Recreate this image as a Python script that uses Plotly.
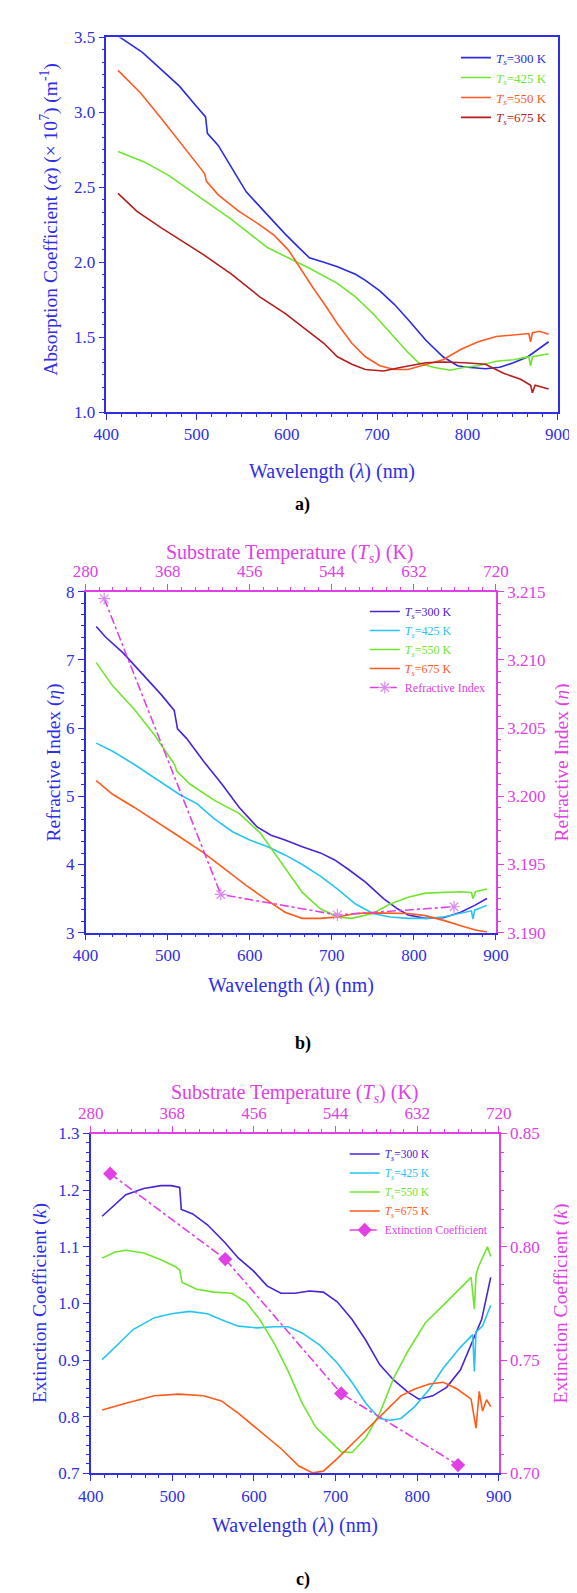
import plotly.graph_objects as go

# ---------------- data ----------------
# Panel a: absorption coefficient (x 10^7 m^-1)
wl_a_300 = [413, 425, 440, 461, 481, 500, 510, 512, 524, 539, 555, 578, 598, 613, 625, 641, 656, 676, 687, 703, 719, 734, 754, 773, 789, 800, 820, 836, 851, 867, 878, 890]
alpha_300 = [3.51, 3.46, 3.40, 3.285, 3.175, 3.04, 2.97, 2.86, 2.78, 2.63, 2.47, 2.32, 2.19, 2.10, 2.03, 2.00, 1.97, 1.92, 1.88, 1.81, 1.72, 1.62, 1.48, 1.37, 1.31, 1.30, 1.29, 1.30, 1.33, 1.37, 1.42, 1.47]
wl_a_425 = [413, 442, 469, 500, 510, 539, 578, 609, 625, 656, 676, 695, 715, 734, 746, 762, 781, 797, 812, 832, 851, 868, 870, 872, 890]
alpha_425 = [2.74, 2.67, 2.58, 2.45, 2.41, 2.285, 2.10, 2.01, 1.96, 1.86, 1.77, 1.66, 1.53, 1.40, 1.33, 1.30, 1.28, 1.30, 1.31, 1.34, 1.35, 1.37, 1.31, 1.37, 1.39]
wl_a_550 = [413, 438, 461, 485, 504, 509, 511, 524, 547, 570, 586, 602, 617, 629, 644, 656, 672, 687, 703, 719, 734, 750, 773, 793, 812, 832, 851, 868, 870, 872, 880, 890]
alpha_550 = [3.28, 3.13, 2.96, 2.78, 2.63, 2.59, 2.54, 2.45, 2.34, 2.25, 2.18, 2.08, 1.94, 1.83, 1.70, 1.59, 1.46, 1.37, 1.31, 1.285, 1.285, 1.31, 1.35, 1.42, 1.47, 1.505, 1.515, 1.525, 1.47, 1.53, 1.54, 1.52]
wl_a_675 = [413, 434, 461, 489, 508, 539, 570, 598, 617, 641, 656, 672, 687, 707, 727, 754, 773, 797, 820, 840, 859, 870, 872, 875, 890]
alpha_675 = [2.46, 2.34, 2.23, 2.12, 2.05, 1.92, 1.77, 1.66, 1.57, 1.46, 1.37, 1.32, 1.285, 1.275, 1.30, 1.33, 1.335, 1.33, 1.32, 1.26, 1.22, 1.18, 1.13, 1.18, 1.155]

# Panel b: refractive index
wl_b_300 = [413, 424, 446, 472, 493, 508, 510, 512, 523, 544, 566, 587, 609, 626, 643, 664, 686, 703, 720, 741, 763, 780, 793, 814, 836, 857, 874, 889]
n_300 = [7.49, 7.34, 7.10, 6.76, 6.48, 6.26, 6.09, 5.99, 5.85, 5.51, 5.18, 4.84, 4.55, 4.43, 4.36, 4.26, 4.17, 4.07, 3.93, 3.74, 3.50, 3.35, 3.26, 3.21, 3.22, 3.30, 3.40, 3.50]
wl_b_425 = [413, 433, 459, 493, 514, 536, 557, 579, 600, 622, 643, 664, 686, 707, 729, 750, 771, 793, 814, 836, 857, 870, 872, 874, 889]
n_425 = [5.78, 5.66, 5.47, 5.20, 5.03, 4.89, 4.67, 4.48, 4.36, 4.26, 4.14, 4.00, 3.83, 3.64, 3.42, 3.28, 3.23, 3.21, 3.21, 3.23, 3.28, 3.32, 3.20, 3.33, 3.40]
wl_b_550 = [413, 433, 459, 484, 506, 509, 511, 527, 557, 587, 613, 630, 647, 664, 686, 707, 724, 750, 771, 793, 814, 836, 857, 870, 872, 875, 889]
n_550 = [6.96, 6.62, 6.28, 5.90, 5.51, 5.45, 5.37, 5.18, 4.94, 4.75, 4.46, 4.17, 3.88, 3.59, 3.35, 3.23, 3.21, 3.28, 3.42, 3.52, 3.58, 3.59, 3.60, 3.59, 3.50, 3.60, 3.64]
wl_b_675 = [413, 433, 459, 493, 514, 544, 570, 596, 622, 643, 664, 686, 707, 729, 750, 771, 793, 814, 836, 857, 875, 889]
n_675 = [5.23, 5.03, 4.84, 4.58, 4.41, 4.17, 3.93, 3.69, 3.47, 3.30, 3.21, 3.21, 3.23, 3.28, 3.29, 3.29, 3.28, 3.25, 3.18, 3.10, 3.04, 3.01]
temp_n = [300, 425, 550, 675]
refr_index = [3.2145, 3.1928, 3.1913, 3.1919]

# Panel c: extinction coefficient
wl_c_300 = [414, 426, 443, 465, 486, 499, 509, 511, 525, 543, 564, 581, 599, 616, 633, 650, 668, 685, 702, 720, 737, 754, 771, 789, 802, 819, 836, 853, 866, 879, 890]
k_300 = [1.154, 1.169, 1.192, 1.203, 1.208, 1.208, 1.205, 1.166, 1.158, 1.139, 1.108, 1.080, 1.058, 1.031, 1.018, 1.018, 1.022, 1.020, 1.003, 0.972, 0.935, 0.892, 0.865, 0.843, 0.831, 0.837, 0.852, 0.883, 0.929, 0.972, 1.046]
wl_c_425 = [414, 430, 452, 478, 499, 521, 543, 564, 581, 603, 625, 642, 659, 681, 702, 720, 737, 754, 767, 780, 797, 815, 832, 853, 868, 870, 872, 880, 890]
k_425 = [0.901, 0.923, 0.954, 0.975, 0.982, 0.986, 0.982, 0.969, 0.960, 0.957, 0.959, 0.959, 0.948, 0.926, 0.895, 0.861, 0.824, 0.797, 0.794, 0.797, 0.818, 0.849, 0.886, 0.923, 0.945, 0.880, 0.950, 0.960, 0.997]
wl_c_550 = [414, 430, 443, 465, 486, 504, 509, 512, 530, 551, 573, 590, 607, 625, 642, 659, 676, 694, 707, 720, 737, 754, 771, 789, 810, 832, 853, 866, 870, 872, 875, 886, 890]
k_550 = [1.080, 1.091, 1.094, 1.089, 1.077, 1.065, 1.059, 1.037, 1.025, 1.020, 1.018, 1.003, 0.972, 0.929, 0.880, 0.824, 0.781, 0.757, 0.738, 0.737, 0.763, 0.806, 0.868, 0.917, 0.966, 0.997, 1.028, 1.046, 0.990, 1.050, 1.065, 1.100, 1.083]
wl_c_675 = [414, 443, 478, 508, 538, 560, 581, 607, 633, 655, 672, 685, 702, 728, 745, 763, 780, 797, 815, 832, 849, 866, 872, 876, 880, 885, 890]
k_675 = [0.812, 0.824, 0.837, 0.840, 0.837, 0.828, 0.806, 0.775, 0.744, 0.713, 0.701, 0.704, 0.726, 0.763, 0.787, 0.812, 0.837, 0.849, 0.858, 0.861, 0.849, 0.831, 0.780, 0.845, 0.810, 0.830, 0.818]
temp_k = [301, 425, 550, 676]
ext_coeff = [0.8323, 0.7946, 0.7353, 0.7037]

# ---------------- styling ----------------
FONT = "Liberation Serif"
BLUE = "#2E2EE8"
MAG = "#E040E6"
MARK = "#D98BEF"
CA = {"300": "#2B2BE6", "425": "#6FE62E", "550": "#FF5A22", "675": "#B41E1E"}
CB = {"300": "#4A22D8", "425": "#26C4F2", "550": "#6FE62E", "675": "#FF5A1A"}


def lab(t, c):
    return f"<span style='color:{c}'><i>T<sub>s</sub></i>={t} K</span>"


fig = go.Figure()

# panel a
for t, xs, ys in [("300", wl_a_300, alpha_300), ("425", wl_a_425, alpha_425),
                  ("550", wl_a_550, alpha_550), ("675", wl_a_675, alpha_675)]:
    fig.add_trace(go.Scatter(x=xs, y=ys, mode="lines", name=lab(t, CA[t]),
                             line=dict(color=CA[t], width=1.6), xaxis="x", yaxis="y",
                             legend="legend"))

# panel b
for t, xs, ys in [("300", wl_b_300, n_300), ("425", wl_b_425, n_425),
                  ("550", wl_b_550, n_550), ("675", wl_b_675, n_675)]:
    fig.add_trace(go.Scatter(x=xs, y=ys, mode="lines", name=lab(t, CB[t]),
                             line=dict(color=CB[t], width=1.6), xaxis="x2", yaxis="y2",
                             legend="legend2"))
fig.add_trace(go.Scatter(x=temp_n, y=refr_index, mode="lines+markers",
                         name=f"<span style='color:{MAG}'>Refractive Index</span>",
                         line=dict(color=MAG, width=1.6, dash="dashdot"),
                         marker=dict(symbol="asterisk-open", size=10, color=MARK,
                                     line=dict(color=MARK, width=1.2)),
                         xaxis="x3", yaxis="y3", legend="legend2"))

# panel c
for t, xs, ys in [("300", wl_c_300, k_300), ("425", wl_c_425, k_425),
                  ("550", wl_c_550, k_550), ("675", wl_c_675, k_675)]:
    fig.add_trace(go.Scatter(x=xs, y=ys, mode="lines", name=lab(t, CB[t]),
                             line=dict(color=CB[t], width=1.6), xaxis="x4", yaxis="y4",
                             legend="legend3"))
fig.add_trace(go.Scatter(x=temp_k, y=ext_coeff, mode="lines+markers",
                         name=f"<span style='color:{MAG}'>Extinction Coefficient</span>",
                         line=dict(color=MAG, width=1.6, dash="dashdot"),
                         marker=dict(symbol="diamond", size=11, color=MAG),
                         xaxis="x5", yaxis="y5", legend="legend3"))


def axis(color, rng, dtick, mdtick, tick0=None, fmt=None, **kw):
    d = dict(range=rng, dtick=dtick, ticks="outside", ticklen=6, tickwidth=1.3,
             tickcolor=color, linecolor=color, linewidth=1.5, showline=True,
             showgrid=False, zeroline=False,
             tickfont=dict(family=FONT, size=17, color=color),
             minor=dict(dtick=mdtick, ticks="outside", ticklen=3, tickwidth=1,
                        tickcolor=color, showgrid=False))
    if tick0 is not None:
        d["tick0"] = tick0
        d["minor"]["tick0"] = tick0
    if fmt:
        d["tickformat"] = fmt
    d.update(kw)
    return d


H = 1593.0
W = 577.0


def ydom(top, bot):
    return [1 - bot / H, 1 - top / H]


fig.update_layout(
    width=577, height=1593, margin=dict(l=0, r=0, t=0, b=0),
    paper_bgcolor="white", plot_bgcolor="white", showlegend=True,
    font=dict(family=FONT),
    xaxis=axis(BLUE, [400, 900], 100, 100 / 6, tick0=400, domain=[89.3 / W, 562 / W],
               anchor="y", mirror=True),
    yaxis=axis(BLUE, [1, 3.5], 0.5, 0.5 / 6, tick0=1, fmt=".1f", domain=ydom(20.7, 400),
               anchor="x", mirror=True),
    xaxis2=axis(BLUE, [400, 900], 100, 100 / 6, tick0=400, domain=[67.6 / W, 497.4 / W],
                anchor="y2"),
    yaxis2=axis(BLUE, [3, 8], 1, 1 / 6, tick0=3, domain=ydom(581.7, 926.7), anchor="x2"),
    xaxis3=axis(MAG, [280, 720], 88, 88 / 6, tick0=280, overlaying="x2", side="top",
                anchor="y2"),
    yaxis3=axis(MAG, [3.19, 3.215], 0.005, 0.005 / 6, tick0=3.19, fmt=".3f",
                overlaying="y2", side="right", anchor="x2"),
    xaxis4=axis(BLUE, [400, 900], 100, 100 / 6, tick0=400, domain=[73 / W, 500.4 / W],
                anchor="y4"),
    yaxis4=axis(BLUE, [0.7, 1.3], 0.1, 0.1 / 6, tick0=0.7, fmt=".1f",
                domain=ydom(1130, 1474), anchor="x4"),
    xaxis5=axis(MAG, [280, 720], 88, 88 / 6, tick0=280, overlaying="x4", side="top",
                anchor="y4"),
    yaxis5=axis(MAG, [0.70, 0.85], 0.05, 0.05 / 6, tick0=0.7, fmt=".2f",
                overlaying="y4", side="right", anchor="x4"),
    legend=dict(x=556 / W, xanchor="right", y=1 - 26 / H, yanchor="top",
                bgcolor="rgba(0,0,0,0)", font=dict(family=FONT, size=13),
                tracegroupgap=0, itemwidth=30),
    legend2=dict(x=492 / W, xanchor="right", y=1 - 587 / H, yanchor="top",
                 bgcolor="rgba(0,0,0,0)", font=dict(family=FONT, size=12),
                 tracegroupgap=0, itemwidth=30),
    legend3=dict(x=495 / W, xanchor="right", y=1 - 1136 / H, yanchor="top",
                 bgcolor="rgba(0,0,0,0)", font=dict(family=FONT, size=11.5),
                 tracegroupgap=0, itemwidth=30),
)


def ann(text, x, y, size, color, angle=0, bold=False):
    if bold:
        text = f"<b>{text}</b>"
    fig.add_annotation(text=text, x=x / W, y=1 - y / H, xref="paper", yref="paper",
                       showarrow=False, textangle=angle, xanchor="center", yanchor="middle",
                       font=dict(family=FONT, size=size, color=color))


# panel a texts
ann("Absorption Coefficient (<i>α</i>) (× 10<sup>7</sup>) (m<sup>-1</sup>)", 29.5, 205, 19.5, BLUE, -90)
ann("Wavelength (<i>λ</i>) (nm)", 326, 460, 20, BLUE)
ann("a)", 295, 493, 18, "black", bold=True)
# panel b texts
ann("Substrate Temperature (<i>T<sub>s</sub></i>) (K)", 282, 543, 20, MAG)
ann("Refractive Index (<i>η</i>)", 35, 754, 19.5, BLUE, -90)
ann("Refractive Index (<i>η</i>)", 567, 754, 19.5, MAG, -90)
ann("Wavelength (<i>λ</i>) (nm)", 282.5, 980, 20, BLUE)
ann("b)", 295, 1039, 18, "black", bold=True)
# panel c texts
ann("Substrate Temperature (<i>T<sub>s</sub></i>) (K)", 287, 1089, 20, MAG)
ann("Extinction Coefficient (<i>k</i>)", 20.5, 1302, 19.5, BLUE, -90)
ann("Extinction Coefficient (<i>k</i>)", 565.5, 1302, 19.5, MAG, -90)
ann("Wavelength (<i>λ</i>) (nm)", 287, 1527, 20, BLUE)
ann("c)", 295, 1581, 18, "black", bold=True)

fig.write_html("out.html")
